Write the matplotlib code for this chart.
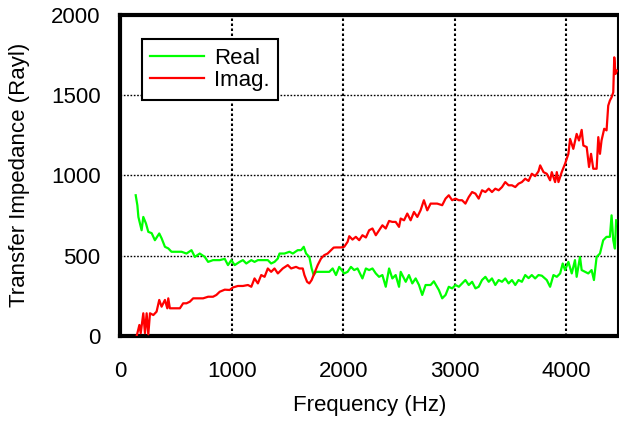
import matplotlib
matplotlib.use("Agg")
import matplotlib.pyplot as plt

plt.rcParams["font.family"] = ["Liberation Sans", "DejaVu Sans"]

# ── Data (frequency in Hz, impedance in Rayl) ──

real_freq = [140, 155, 164, 193, 208, 232, 253, 283, 312, 351, 372, 402, 432, 461, 506,
             551, 595, 640, 670, 714, 759, 789, 833, 893, 938, 967, 997, 1027, 1071, 1101,
             1131, 1176, 1205, 1235, 1280, 1324, 1354, 1384, 1414, 1429, 1473, 1518, 1548,
             1592, 1622, 1646, 1667, 1696, 1717, 1735, 1756, 1801, 1845, 1875, 1905, 1935,
             1964, 2009, 2039, 2069, 2098, 2128, 2172, 2203, 2232, 2262, 2292, 2321, 2351,
             2381, 2411, 2440, 2470, 2500, 2515, 2560, 2589, 2619, 2649, 2679, 2708, 2738,
             2783, 2812, 2857, 2887, 2917, 2946, 2976, 3006, 3036, 3065, 3095, 3125, 3155,
             3185, 3214, 3244, 3274, 3304, 3333, 3363, 3393, 3423, 3452, 3482, 3512, 3542,
             3571, 3601, 3631, 3661, 3690, 3720, 3750, 3780, 3824, 3854, 3884, 3914, 3944,
             3967, 3988, 4018, 4048, 4077, 4092, 4122, 4137, 4167, 4196, 4226, 4247, 4271,
             4301, 4330, 4360, 4390, 4405, 4420, 4435, 4446]
real_val = [876, 813, 741, 658, 741, 700, 648, 640, 596, 638, 608, 555, 545, 524, 524,
            524, 513, 534, 492, 513, 492, 461, 472, 472, 480, 441, 472, 441, 461, 472,
            451, 472, 461, 472, 472, 472, 451, 461, 482, 513, 513, 524, 513,
            534, 534, 555, 513, 492, 420, 379, 399, 399, 399, 399, 420, 379,
            430, 389, 399, 430, 410, 420, 358, 420, 410, 420, 389, 368, 379,
            306, 420, 358, 379, 306, 399, 337, 379, 327, 358, 317, 255, 317,
            317, 340, 286, 234, 255, 306, 296, 317, 306, 327, 348, 317, 337,
            296, 306, 348, 368, 337, 358, 317, 348, 337, 358, 327, 348, 317,
            348, 337, 379, 360, 379, 358, 379, 375, 348, 306, 379, 368, 389,
            451, 410, 461, 389, 472, 368, 492, 410, 399, 389, 410, 348, 492,
            513, 596, 617, 617, 751, 596, 544, 720]

imag_freq = [149, 173, 185, 208, 223, 238, 253, 268, 298, 327, 351, 372, 402, 423, 432,
             446, 476, 536, 565, 595, 625, 655, 699, 744, 789, 833, 863, 893, 938, 982,
             1012, 1056, 1101, 1146, 1176, 1205, 1235, 1265, 1295, 1324, 1354, 1384, 1414,
             1458, 1503, 1533, 1577, 1607, 1637, 1652, 1676, 1696, 1717, 1741, 1771, 1801,
             1830, 1860, 1890, 1914, 1935, 1979, 2009, 2039, 2054, 2083, 2113, 2143, 2172,
             2203, 2232, 2262, 2292, 2321, 2351, 2381, 2411, 2440, 2470, 2500, 2515, 2545,
             2574, 2604, 2634, 2664, 2693, 2723, 2753, 2783, 2812, 2842, 2887, 2917, 2946,
             2976, 3006, 3036, 3065, 3095, 3125, 3155, 3185, 3214, 3244, 3274, 3304, 3333,
             3363, 3393, 3423, 3452, 3482, 3512, 3542, 3571, 3601, 3631, 3661, 3690, 3720,
             3750, 3765, 3795, 3824, 3854, 3869, 3899, 3914, 3929, 3958, 3988, 4018, 4033,
             4062, 4092, 4113, 4137, 4152, 4182, 4203, 4221, 4241, 4271, 4286, 4301, 4315,
             4339, 4360, 4375, 4390, 4405, 4420, 4429, 4440, 4453]
imag_val = [0, 68, 17, 141, 17, 141, 10, 141, 130, 151, 224, 182, 224, 172, 234,
            172, 172, 172, 203, 203, 213, 234, 234, 234, 244, 244, 255, 275, 288, 286,
            302, 311, 311, 317, 306, 358, 327, 379, 368, 420, 399, 420, 389,
            420, 441, 420, 430, 420, 420, 379, 337, 327, 348, 389, 441, 482,
            503, 513, 534, 550, 551, 551, 555, 586, 621, 600, 617, 596, 627,
            613, 658, 669, 627, 658, 689, 669, 716, 710, 710, 679, 731, 720,
            762, 720, 772, 741, 782, 845, 782, 824, 824, 824, 814, 855, 876,
            845, 855, 845, 845, 824, 865, 896, 886, 855, 907, 896, 917, 896,
            917, 907, 927, 958, 938, 938, 927, 948, 958, 979, 965, 1010, 995,
            1025, 1062, 1020, 1010, 969, 1020, 958, 1020, 958, 1020, 1072, 1134, 1227,
            1165, 1258, 1217, 1283, 1186, 1176, 1052, 1134, 1041, 1041, 1238, 1134, 1217,
            1290, 1280, 1434, 1466, 1486, 1517, 1735, 1631, 1652]

x_ticks = [0, 1000, 2000, 3000, 4000]
y_ticks = [0, 500, 1000, 1500, 2000]

# ── Plot ──

FS = 16

fig = plt.figure(figsize=(6.19, 4.22), dpi=100)
ax = fig.add_axes([0.194, 0.204, 0.805, 0.761])

ax.plot(real_freq, real_val, color="#00ff00", linewidth=1.6, label="Real", zorder=3)
ax.plot(imag_freq, imag_val, color="#ff0000", linewidth=1.6, label="Imag.", zorder=3)

ax.set_xlim(0, 4466)
ax.set_ylim(0, 2000)
ax.set_xticks(x_ticks)
ax.set_yticks(y_ticks)

ax.xaxis.grid(True, color="black", linestyle=(0, (1.2, 1.2)), linewidth=1.5)
ax.yaxis.grid(True, color="black", linestyle=(0, (1.2, 1.2)), linewidth=1.0)
ax.set_axisbelow(True)

for side in ("left", "top", "bottom"):
    ax.spines[side].set_linewidth(3.0)
ax.spines["right"].set_linewidth(1.5)

ax.tick_params(axis="x", length=0, pad=18, labelsize=FS)
ax.tick_params(axis="y", length=0, pad=14, labelsize=FS)

ax.set_xlabel("Frequency (Hz)", fontsize=FS)
ax.set_ylabel("Transfer Impedance (Rayl)", fontsize=FS)
ax.xaxis.set_label_coords(0.5, -0.183)
ax.yaxis.set_label_coords(-0.18, 0.5)

leg = ax.legend(loc="upper left", bbox_to_anchor=(0.043, 0.925), fontsize=FS,
                frameon=True, fancybox=False, shadow=False, borderaxespad=0,
                handlelength=2.4, handletextpad=0.45, labelspacing=0.05,
                borderpad=0.4)
leg.get_frame().set_edgecolor("black")
leg.get_frame().set_linewidth(1.5)
leg.get_frame().set_alpha(1.0)

fig.savefig("out.png", dpi=100)
